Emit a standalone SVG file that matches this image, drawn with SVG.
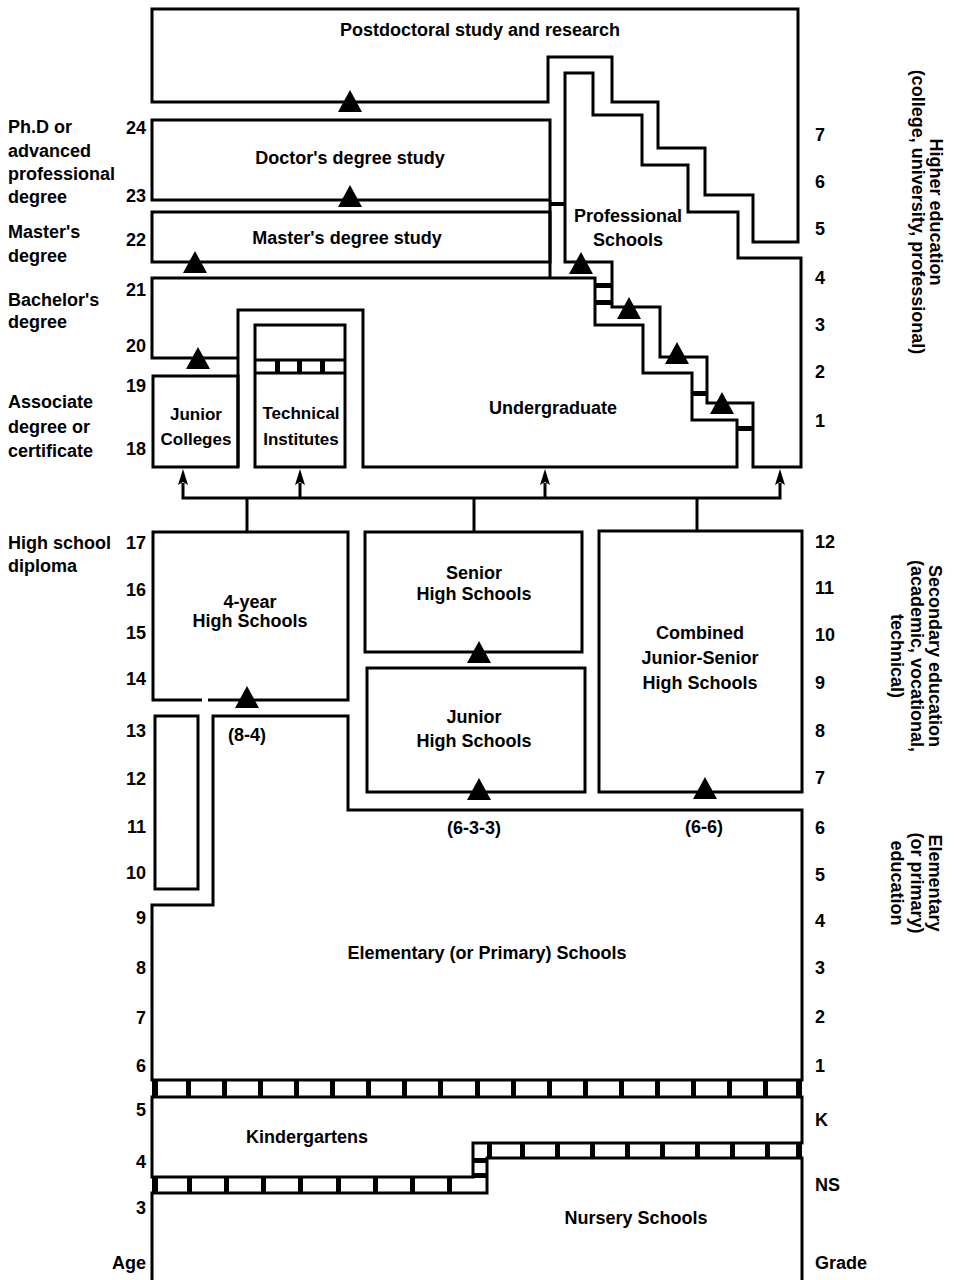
<svg xmlns="http://www.w3.org/2000/svg" width="957" height="1280" viewBox="0 0 957 1280">
<style>
.ln{fill:none;stroke:#000;stroke-width:3;stroke-linejoin:miter}
.bx{fill:none;stroke:#000;stroke-width:3}
.t{font-family:"Liberation Sans",Arial,sans-serif;font-weight:bold;font-size:18px;fill:#000}
.s{font-size:17px}
.c{text-anchor:middle}
.e{text-anchor:end}
.bar{fill:#000}
</style>
<defs>
<path id="tri" d="M0,-12 L12,10 L-12,10 Z" fill="#000"/>
<path id="ah" d="M0,0 L5,16 L0,13 L-5,16 Z" fill="#000"/>
</defs>
<rect x="0" y="0" width="957" height="1280" fill="#fff"/>

<g id="postdoctoral">
<path class="ln" d="M152,102 V9 H798 V242 H753 V195 H705 V148 H658 V102 H612 V57 H548 V102 Z"/>
<text class="t c" x="480" y="36">Postdoctoral study and research</text>
</g>

<g id="doctor">
<rect class="bx" x="152" y="120" width="398" height="80"/>
<text class="t c" x="350" y="164">Doctor's degree study</text>
</g>

<g id="master">
<rect class="bx" x="152" y="212" width="398" height="50"/>
<text class="t c" x="347" y="244">Master's degree study</text>
</g>

<g id="professional">
<path class="ln" d="M565,262 V73 H593 V115 H642 V165 H688 V212 H738 V258 H801 V467 H753 V403 H707 V357 H660 V307 H612 V262 Z"/>
<text class="t c" x="628" y="222">Professional</text>
<text class="t c" x="628" y="246">Schools</text>
</g>

<g id="undergraduate">
<path class="ln" d="M238,467 V310 H363 V467 H737 V420 H692 V373 H643 V325 H595 V278 H152 V358 H238"/>
<line class="ln" x1="550" y1="200" x2="550" y2="278"/>
<text class="t c" x="553" y="414">Undergraduate</text>
</g>

<g id="channel-rungs">
<rect class="bar" x="550" y="202" width="15" height="4"/>
<rect class="bar" x="595" y="283" width="17" height="5"/>
<rect class="bar" x="595" y="300" width="17" height="5"/>
<rect class="bar" x="692" y="391" width="15" height="5"/>
<rect class="bar" x="737" y="426" width="16" height="5"/>
</g>

<g id="junior-colleges">
<rect class="bx" x="153" y="376" width="85" height="91"/>
<text class="t c s" x="196" y="420">Junior</text>
<text class="t c s" x="196" y="445">Colleges</text>
</g>

<g id="technical-institutes">
<rect class="bx" x="255" y="325" width="90" height="142"/>
<line class="ln" x1="255" y1="360" x2="345" y2="360"/>
<line class="ln" x1="255" y1="373" x2="345" y2="373"/>
<rect class="bar" x="275" y="360" width="5" height="13"/>
<rect class="bar" x="297" y="360" width="5" height="13"/>
<rect class="bar" x="320" y="360" width="5" height="13"/>
<text class="t c s" x="301" y="419">Technical</text>
<text class="t c s" x="301" y="445">Institutes</text>
</g>

<g id="four-year-hs">
<path class="ln" d="M202,700 H153 V532 H348 V700 H208"/>
<text class="t c" x="250" y="608">4-year</text>
<text class="t c" x="250" y="627">High Schools</text>
<text class="t c" x="247" y="741">(8-4)</text>
</g>

<g id="senior-hs">
<rect class="bx" x="365" y="532" width="217" height="120"/>
<text class="t c" x="474" y="579">Senior</text>
<text class="t c" x="474" y="600">High Schools</text>
</g>

<g id="junior-hs">
<rect class="bx" x="367" y="668" width="218" height="124"/>
<text class="t c" x="474" y="723">Junior</text>
<text class="t c" x="474" y="747">High Schools</text>
<text class="t c" x="474" y="834">(6-3-3)</text>
</g>

<g id="combined-hs">
<rect class="bx" x="599" y="531" width="203" height="261"/>
<text class="t c" x="700" y="639">Combined</text>
<text class="t c" x="700" y="664">Junior-Senior</text>
<text class="t c" x="700" y="689">High Schools</text>
<text class="t c" x="704" y="833">(6-6)</text>
</g>

<g id="middle-strip">
<rect class="bx" x="155" y="716" width="43" height="173"/>
</g>

<g id="elementary">
<path class="ln" d="M213,716 H348 V810 H802 V1080 H152 V905 H213 Z"/>
<text class="t c" x="487" y="959">Elementary (or Primary) Schools</text>
</g>

<g id="kindergartens">
<path class="ln" d="M152,1097 H802 V1143 H473 V1177 H152 Z"/>
<text class="t c" x="307" y="1143">Kindergartens</text>
</g>

<g id="nursery">
<path class="ln" d="M152,1280 V1193 H487 V1158 H802 V1280"/>
<text class="t c" x="636" y="1224">Nursery Schools</text>
</g>

<g id="ladder-bands">
<rect class="bar" x="152" y="1080" width="6" height="17"/>
<rect class="bar" x="186" y="1080" width="5" height="17"/>
<rect class="bar" x="222" y="1080" width="5" height="17"/>
<rect class="bar" x="258" y="1080" width="5" height="17"/>
<rect class="bar" x="294" y="1080" width="5" height="17"/>
<rect class="bar" x="330" y="1080" width="5" height="17"/>
<rect class="bar" x="366" y="1080" width="5" height="17"/>
<rect class="bar" x="402" y="1080" width="5" height="17"/>
<rect class="bar" x="438" y="1080" width="5" height="17"/>
<rect class="bar" x="475" y="1080" width="5" height="17"/>
<rect class="bar" x="511" y="1080" width="5" height="17"/>
<rect class="bar" x="547" y="1080" width="5" height="17"/>
<rect class="bar" x="583" y="1080" width="5" height="17"/>
<rect class="bar" x="619" y="1080" width="5" height="17"/>
<rect class="bar" x="655" y="1080" width="5" height="17"/>
<rect class="bar" x="691" y="1080" width="5" height="17"/>
<rect class="bar" x="727" y="1080" width="5" height="17"/>
<rect class="bar" x="763" y="1080" width="5" height="17"/>
<rect class="bar" x="796" y="1080" width="6" height="17"/>

<rect class="bar" x="152" y="1177" width="6" height="16"/>
<rect class="bar" x="187" y="1177" width="5" height="16"/>
<rect class="bar" x="224" y="1177" width="5" height="16"/>
<rect class="bar" x="261" y="1177" width="5" height="16"/>
<rect class="bar" x="298" y="1177" width="5" height="16"/>
<rect class="bar" x="336" y="1177" width="5" height="16"/>
<rect class="bar" x="373" y="1177" width="5" height="16"/>
<rect class="bar" x="410" y="1177" width="5" height="16"/>
<rect class="bar" x="447" y="1177" width="5" height="16"/>

<rect class="bar" x="473" y="1158" width="14" height="5"/>
<rect class="bar" x="473" y="1173" width="14" height="5"/>

<rect class="bar" x="487" y="1143" width="5" height="15"/>
<rect class="bar" x="520" y="1143" width="5" height="15"/>
<rect class="bar" x="555" y="1143" width="5" height="15"/>
<rect class="bar" x="590" y="1143" width="5" height="15"/>
<rect class="bar" x="625" y="1143" width="5" height="15"/>
<rect class="bar" x="660" y="1143" width="5" height="15"/>
<rect class="bar" x="695" y="1143" width="5" height="15"/>
<rect class="bar" x="730" y="1143" width="5" height="15"/>
<rect class="bar" x="765" y="1143" width="5" height="15"/>
<rect class="bar" x="796" y="1143" width="6" height="15"/>
</g>

<g id="connectors">
<polyline class="ln" points="183,483 183,498 780,498 780,483"/>
<line class="ln" x1="300" y1="498" x2="300" y2="483"/>
<line class="ln" x1="545" y1="498" x2="545" y2="483"/>
<line class="ln" x1="247" y1="498" x2="247" y2="532"/>
<line class="ln" x1="474" y1="498" x2="474" y2="532"/>
<line class="ln" x1="697" y1="498" x2="697" y2="531"/>
<use href="#ah" x="183" y="469"/>
<use href="#ah" x="300" y="469"/>
<use href="#ah" x="545" y="469"/>
<use href="#ah" x="780" y="469"/>
<use href="#tri" x="350" y="102"/>
<use href="#tri" x="350" y="197"/>
<use href="#tri" x="195" y="263"/>
<use href="#tri" x="198" y="359"/>
<use href="#tri" x="581" y="264"/>
<use href="#tri" x="629" y="309"/>
<use href="#tri" x="677" y="354"/>
<use href="#tri" x="722" y="404"/>
<use href="#tri" x="247" y="698"/>
<use href="#tri" x="479" y="653"/>
<use href="#tri" x="479" y="790"/>
<use href="#tri" x="705" y="789"/>
</g>

<g id="left-labels" class="t">
<text x="8" y="133">Ph.D  or</text>
<text x="8" y="157">advanced</text>
<text x="8" y="180">professional</text>
<text x="8" y="203">degree</text>
<text x="8" y="238">Master's</text>
<text x="8" y="262">degree</text>
<text x="8" y="306">Bachelor's</text>
<text x="8" y="328">degree</text>
<text x="8" y="408">Associate</text>
<text x="8" y="433">degree or</text>
<text x="8" y="457">certificate</text>
<text x="8" y="549">High school</text>
<text x="8" y="572">diploma</text>
</g>

<g id="age-scale" class="t e">
<text x="146" y="134">24</text>
<text x="146" y="202">23</text>
<text x="146" y="246">22</text>
<text x="146" y="296">21</text>
<text x="146" y="352">20</text>
<text x="146" y="392">19</text>
<text x="146" y="455">18</text>
<text x="146" y="549">17</text>
<text x="146" y="596">16</text>
<text x="146" y="639">15</text>
<text x="146" y="685">14</text>
<text x="146" y="737">13</text>
<text x="146" y="785">12</text>
<text x="146" y="833">11</text>
<text x="146" y="879">10</text>
<text x="146" y="924">9</text>
<text x="146" y="974">8</text>
<text x="146" y="1024">7</text>
<text x="146" y="1072">6</text>
<text x="146" y="1116">5</text>
<text x="146" y="1168">4</text>
<text x="146" y="1214">3</text>
<text x="146" y="1269">Age</text>
</g>

<g id="grade-scale" class="t">
<text x="815" y="141">7</text>
<text x="815" y="188">6</text>
<text x="815" y="235">5</text>
<text x="815" y="284">4</text>
<text x="815" y="331">3</text>
<text x="815" y="378">2</text>
<text x="815" y="427">1</text>
<text x="815" y="548">12</text>
<text x="815" y="594">11</text>
<text x="815" y="641">10</text>
<text x="815" y="689">9</text>
<text x="815" y="737">8</text>
<text x="815" y="784">7</text>
<text x="815" y="834">6</text>
<text x="815" y="881">5</text>
<text x="815" y="927">4</text>
<text x="815" y="974">3</text>
<text x="815" y="1023">2</text>
<text x="815" y="1072">1</text>
<text x="815" y="1126">K</text>
<text x="815" y="1191">NS</text>
<text x="815" y="1269">Grade</text>
</g>

<g id="level-labels" class="t c">
<text transform="translate(930,212) rotate(90)">Higher education</text>
<text transform="translate(912,212) rotate(90)">(college, university, professional)</text>
<text transform="translate(929,656) rotate(90)">Secondary education</text>
<text transform="translate(911,656) rotate(90)">(academic, vocational,</text>
<text transform="translate(891,656) rotate(90)">technical)</text>
<text transform="translate(929,883) rotate(90)">Elementary</text>
<text transform="translate(911,883) rotate(90)">(or primary)</text>
<text transform="translate(891,883) rotate(90)">education</text>
</g>
</svg>
